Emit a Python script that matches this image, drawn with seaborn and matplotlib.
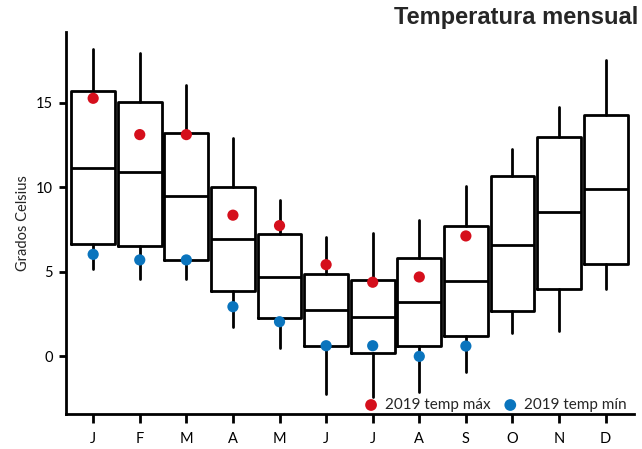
import numpy as np
import pandas as pd
import matplotlib
matplotlib.use('Agg')
import matplotlib.pyplot as plt
import seaborn as sns

# Datos
meses = ['J', 'F', 'M', 'A', 'M', 'J', 'J', 'A', 'S', 'O', 'N', 'D']
whisker_low = [5.15, 4.54, 4.54, 1.70, 0.47, -2.23, -2.43, -2.13, -0.93, 1.34, 1.48, 3.95]
q1 = [6.62, 6.52, 5.67, 3.83, 2.27, 0.57, 0.20, 0.59, 1.17, 2.65, 3.95, 5.45]
mediana = [11.12, 10.92, 9.50, 6.91, 4.70, 2.72, 2.29, 3.22, 4.42, 6.60, 8.53, 9.91]
q3 = [15.68, 15.03, 13.23, 10.01, 7.23, 4.84, 4.48, 5.79, 7.72, 10.65, 12.95, 14.30]
whisker_high = [18.19, 17.97, 16.04, 12.89, 9.24, 7.03, 7.30, 8.06, 10.07, 12.24, 14.77, 17.54]

# 2019 (solo hasta septiembre)
max_2019 = [15.26, 13.11, 13.11, 8.34, 7.72, 5.41, 4.37, 4.68, 7.11]
min_2019 = [6.02, 5.69, 5.69, 2.92, 2.03, 0.61, 0.61, -0.02, 0.59]

sns.set_style('ticks')
plt.rcParams['font.family'] = ['Lato', 'DejaVu Sans']

fig = plt.figure(figsize=(6.42, 4.49), dpi=100)
ax = fig.add_axes([0.1023, 0.0773, 0.8857, 0.852])

stats = []
for i in range(len(meses)):
    stats.append({'whislo': whisker_low[i], 'q1': q1[i], 'med': mediana[i],
                  'q3': q3[i], 'whishi': whisker_high[i], 'fliers': []})

lw = 2.0
ax.bxp(stats, positions=range(len(meses)), widths=0.94, showcaps=False,
       showfliers=False, patch_artist=False,
       boxprops=dict(color='black', linewidth=lw),
       medianprops=dict(color='black', linewidth=lw),
       whiskerprops=dict(color='black', linewidth=lw))

df_max = pd.DataFrame({'x': range(len(max_2019)), 'y': max_2019})
df_min = pd.DataFrame({'x': range(len(min_2019)), 'y': min_2019})
sns.scatterplot(data=df_max, x='x', y='y', ax=ax, color='#d50f1c', s=65,
                edgecolor='none', label='2019 temp máx', zorder=5)
sns.scatterplot(data=df_min, x='x', y='y', ax=ax, color='#0a74bd', s=65,
                edgecolor='none', label='2019 temp mín', zorder=5)

ax.set_xlim(-0.59, 11.615)
ax.set_ylim(-3.45, 19.2)
ax.set_xticks(range(len(meses)))
ax.set_xticklabels(meses)
ax.set_yticks([0, 5, 10, 15])
ax.set_xlabel('')
ax.set_ylabel('Grados Celsius', fontsize=10.5)
ax.tick_params(axis='both', labelsize=10.5, width=lw, colors='black')
ax.tick_params(axis='x', length=6.5, pad=6)
ax.tick_params(axis='y', length=5, pad=4)
for s in ['left', 'bottom']:
    ax.spines[s].set_linewidth(lw)
    ax.spines[s].set_color('black')
sns.despine(ax=ax)

ax.legend(loc='lower right', bbox_to_anchor=(1.0, -0.014), ncol=2, frameon=False,
          fontsize=11, handletextpad=-0.1, columnspacing=0.3, borderaxespad=0.1,
          markerscale=1.05)

fig.text(0.994, 0.962, 'Temperatura mensual', ha='right', va='center',
         fontsize=17, fontweight='bold', family=['Liberation Sans', 'DejaVu Sans'])

fig.savefig('out.png', dpi=100)
